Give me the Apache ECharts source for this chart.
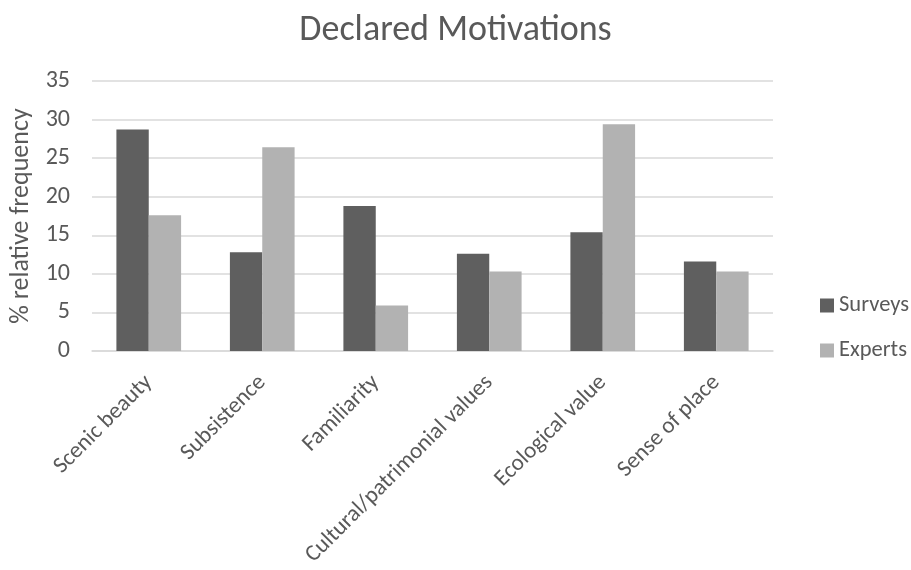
<!DOCTYPE html>
<html>
<head>
<meta charset="utf-8" />
<title>Declared Motivations</title>
<script type="text/javascript" src="https://cdn.jsdelivr.net/npm/echarts@6/dist/echarts.min.js"></script>
</head>
<body style="margin:0;background-color: white;">
<div id="main" style="width: 911px;height:570px;background-color: white;"></div>
<script type="text/javascript">
    // data
    var categories = ['Scenic beauty', 'Subsistence', 'Familiarity', 'Cultural/patrimonial values', 'Ecological value', 'Sense of place'];
    var surveys = [28.7, 12.8, 18.8, 12.6, 15.4, 11.6];
    var experts = [17.6, 26.4, 5.9, 10.3, 29.4, 10.3];

    var fontFam = 'Carlito, Lato, "Open Sans", sans-serif';
    var txtColor = '#595959';

    var myChart = echarts.init(document.getElementById('main'));
    myChart.setOption({
        animation: false,
        textStyle: { fontFamily: fontFam },
        title: {
            text: 'Declared Motivations',
            left: 'center',
            top: 8,
            textStyle: { fontFamily: fontFam, fontSize: 36, fontWeight: 'normal', color: txtColor }
        },
        legend: {
            orient: 'vertical',
            left: 815,
            top: 289,
            itemWidth: 14,
            itemHeight: 14,
            itemGap: 22,
            icon: 'rect',
            data: ['Surveys', 'Experts'],
            textStyle: { fontFamily: fontFam, fontSize: 22.5, color: txtColor }
        },
        grid: { left: 92, right: 138, top: 81, bottom: 219 },
        xAxis: {
            type: 'category',
            data: categories,
            axisLine: { lineStyle: { color: '#d9d9d9', width: 1.5 } },
            axisTick: { show: false },
            axisLabel: { rotate: 45, fontSize: 23, color: txtColor, fontFamily: fontFam, margin: 28, interval: 0 }
        },
        yAxis: {
            type: 'value',
            min: 0,
            max: 35,
            interval: 5,
            name: '% relative frequency',
            nameLocation: 'middle',
            nameGap: 58,
            nameTextStyle: { fontSize: 26, color: txtColor, fontFamily: fontFam },
            axisLine: { show: false },
            axisTick: { show: false },
            axisLabel: { fontSize: 24, color: txtColor, fontFamily: fontFam, margin: 22 },
            splitLine: { lineStyle: { color: '#d9d9d9', width: 1.5 } }
        },
        series: [
            {
                name: 'Surveys',
                type: 'bar',
                data: surveys,
                barGap: '0%',
                barCategoryGap: '43%',
                itemStyle: { color: '#5f5f5f' }
            },
            {
                name: 'Experts',
                type: 'bar',
                data: experts,
                itemStyle: { color: '#b2b2b2' }
            }
        ]
    });
</script>
</body>
</html>
